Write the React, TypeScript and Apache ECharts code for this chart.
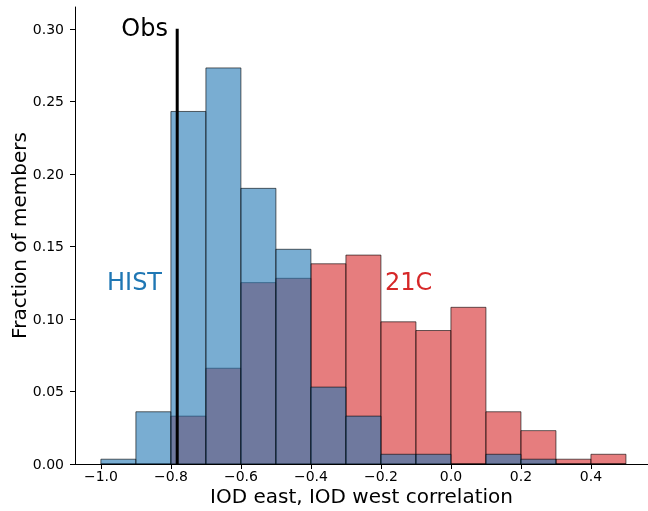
import React, { useEffect, useRef } from "react";
import * as echarts from "echarts";

const binEdges = [-1.0, -0.9, -0.8, -0.7, -0.6, -0.5, -0.4, -0.3, -0.2, -0.1, 0.0, 0.1, 0.2, 0.3, 0.4, 0.5];
const histValues = [0.0033, 0.036, 0.243, 0.273, 0.19, 0.148, 0.053, 0.033, 0.0067, 0.0067, 0, 0.0067, 0.0033, 0, 0];
const c21Values = [0, 0, 0.033, 0.066, 0.125, 0.128, 0.138, 0.144, 0.098, 0.092, 0.108, 0.036, 0.023, 0.0033, 0.0067];
const xTicks = [-1.0, -0.8, -0.6, -0.4, -0.2, 0.0, 0.2, 0.4];
const yTicks = [0, 0.05, 0.1, 0.15, 0.2, 0.25, 0.3];
const obsValue = -0.782;
const obsTop = 0.3;

const FONT = "DejaVu Sans";

function binData(values: number[]) {
  return values.map((v, i) => [binEdges[i], binEdges[i + 1], v]);
}

function makeRender(color: string) {
  return (params: any, api: any) => {
    const x0 = api.value(0);
    const x1 = api.value(1);
    const h = api.value(2);
    const p0 = api.coord([x0, h]);
    const p1 = api.coord([x1, 0]);
    return {
      type: "rect",
      shape: { x: p0[0], y: p0[1], width: p1[0] - p0[0], height: p1[1] - p0[1] },
      style: { fill: color, stroke: "#000", lineWidth: 1, opacity: 0.6 },
    };
  };
}

export default function App() {
  const ref = useRef<HTMLDivElement>(null);
  useEffect(() => {
    document.body.style.margin = "0";
    const chart = echarts.init(ref.current!, null, { renderer: "svg" });
    chart.setOption({
      animation: false,
      textStyle: { fontFamily: FONT },
      grid: { left: 75, right: 0, top: 7, bottom: 47, containLabel: false, outerBoundsMode: "none" },
      xAxis: {
        type: "value",
        min: -1.074,
        max: 0.563,
        splitLine: { show: false },
        axisLine: { show: true, onZero: false, lineStyle: { color: "#000", width: 1 } },
        axisTick: { show: true, length: 5, customValues: xTicks, lineStyle: { color: "#000" } },
        axisLabel: {
          customValues: xTicks,
          fontFamily: FONT,
          fontSize: 14,
          color: "#000",
          margin: 5,
          formatter: (v: number) => (v < -1e-9 ? "\u2212" : "") + Math.abs(v).toFixed(1),
        },
        name: "IOD east, IOD west correlation",
        nameLocation: "middle",
        nameGap: 22,
        nameMoveOverlap: false,
        nameTextStyle: { fontFamily: FONT, fontSize: 20, color: "#000" },
      },
      yAxis: {
        type: "value",
        min: 0,
        max: 0.315,
        splitLine: { show: false },
        axisLine: { show: true, onZero: false, lineStyle: { color: "#000", width: 1 } },
        axisTick: { show: true, length: 5, customValues: yTicks, lineStyle: { color: "#000" } },
        axisLabel: {
          customValues: yTicks,
          fontFamily: FONT,
          fontSize: 14,
          color: "#000",
          margin: 11,
          formatter: (v: number) => v.toFixed(2),
        },
        name: "Fraction of members",
        nameLocation: "middle",
        nameRotate: 90,
        nameGap: 46,
        nameMoveOverlap: false,
        nameTextStyle: { fontFamily: FONT, fontSize: 20, color: "#000" },
      },
      series: [
        {
          type: "custom",
          name: "21C",
          renderItem: makeRender("#d62728"),
          data: binData(c21Values),
          encode: { x: [0, 1], y: 2 },
          z: 2,
        },
        {
          type: "custom",
          name: "HIST",
          renderItem: makeRender("#1f77b4"),
          data: binData(histValues),
          encode: { x: [0, 1], y: 2 },
          z: 3,
        },
        {
          type: "line",
          name: "Obs",
          data: [
            [obsValue, 0],
            [obsValue, obsTop],
          ],
          symbol: "none",
          lineStyle: { color: "#000", width: 3 },
          z: 5,
        },
      ],
      graphic: [
        {
          type: "text",
          x: 168,
          y: 28,
          style: { text: "Obs", fontFamily: FONT, fontSize: 24, fill: "#000", align: "right", verticalAlign: "middle" },
          z: 10,
        },
        {
          type: "text",
          x: 107,
          y: 282,
          style: { text: "HIST", fontFamily: FONT, fontSize: 24, fill: "#1f77b4", align: "left", verticalAlign: "middle" },
          z: 10,
        },
        {
          type: "text",
          x: 385,
          y: 282,
          style: { text: "21C", fontFamily: FONT, fontSize: 24, fill: "#d62728", align: "left", verticalAlign: "middle" },
          z: 10,
        },
      ],
    });
    return () => chart.dispose();
  }, []);
  return <div ref={ref} style={{ position: "fixed", left: 0, top: 0, width: 648, height: 511 }} />;
}
